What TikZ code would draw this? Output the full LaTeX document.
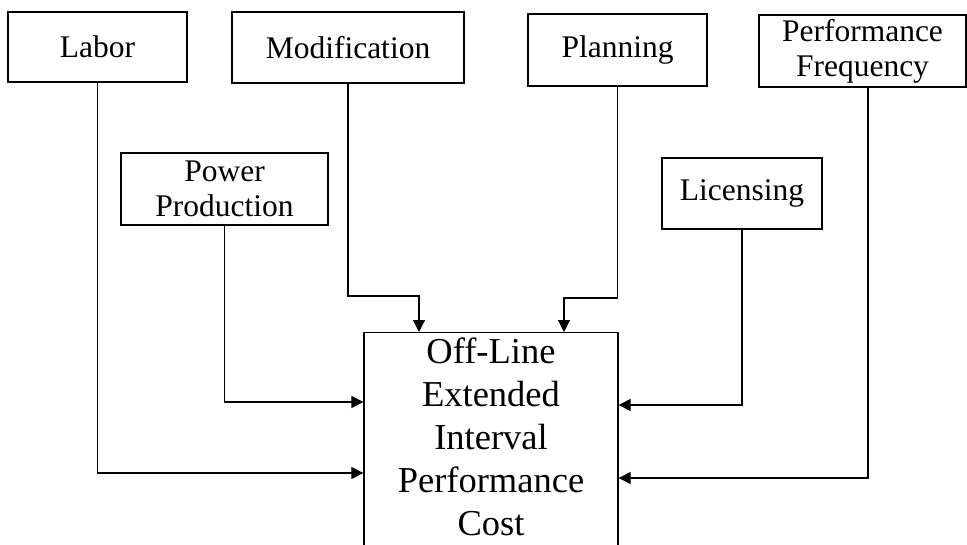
\documentclass[tikz,border=0pt]{standalone}
\usepackage{fontspec}
\setmainfont{Liberation Serif}
\usetikzlibrary{arrows.meta}
\begin{document}
\begin{tikzpicture}[x=1pt,y=-1pt,
  box/.style={draw, line width=1.3pt, inner sep=0pt, align=center, font=\fontsize{31.5}{35}\selectfont},
  arr/.style={line width=1.2pt, -{Triangle[length=12pt,width=12pt]}}]
\useasboundingbox (0,0) rectangle (967,544);
\clip (0,0) rectangle (967,544);
% top row
\node[box, minimum width=179pt, minimum height=70pt] (labor) at (97.5,47) {Labor};
\node[box, minimum width=232pt, minimum height=71pt] (mod) at (348,47.5) {Modification};
\node[box, minimum width=179pt, minimum height=72pt] (plan) at (617.5,50) {Planning};
\node[box, minimum width=207pt, minimum height=72pt] (pf) at (862.5,51) {Performance\\Frequency};
% second row
\node[box, minimum width=207pt, minimum height=72pt] (pp) at (224.5,189) {Power\\Production};
\node[box, minimum width=160pt, minimum height=71pt] (lic) at (742,193.5) {Licensing};
% central
\node[draw, line width=1.3pt, minimum width=254pt, minimum height=260pt, anchor=north, inner sep=0pt] (c) at (491,332) {};
\node[anchor=north, align=center, inner sep=0pt, font=\fontsize{36.5}{43}\selectfont] (ct) at ([yshift=-6pt]c.north) {Off-Line\\Extended\\Interval\\Performance\\Cost};
% level coordinates
\coordinate (yLab) at (0,473);
\coordinate (yPP) at (0,402);
\coordinate (yLic) at (0,405);
\coordinate (yPF) at (0,478);
\coordinate (mA) at (419,296);
\coordinate (pA) at (564,298);
\coordinate (pfS) at (868,87);
% connectors
\draw[arr] (labor.south) |- (c.west |- yLab);
\draw[arr] (pp.south) |- (c.west |- yPP);
\draw[arr] (mod.south) |- (mA) -- (mA |- c.north);
\draw[arr] (plan.south) |- (pA) -- (pA |- c.north);
\draw[arr] (lic.south) |- (c.east |- yLic);
\draw[arr] (pfS) |- (c.east |- yPF);
\end{tikzpicture}
\end{document}
